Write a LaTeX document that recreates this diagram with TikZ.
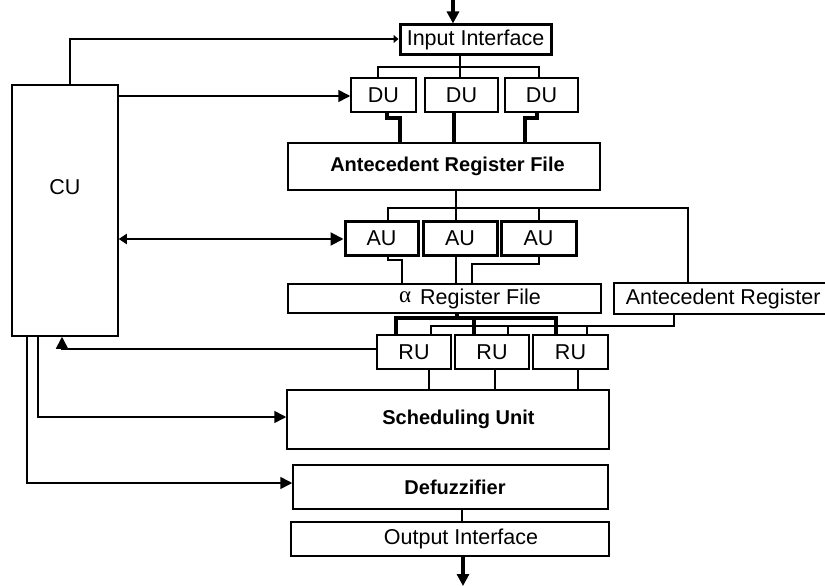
\documentclass[tikz,border=0pt]{standalone}
\usepackage{fontspec}
\setmainfont{Liberation Sans}
\newfontfamily\greekfont{Liberation Serif}
\usetikzlibrary{arrows.meta}
\begin{document}
\begin{tikzpicture}[x=1pt,y=-1pt,
  box/.style={draw, line width=1.5pt, inner sep=0pt, font=\fontsize{21.5}{24}\selectfont},
  tbox/.style={box, line width=3pt},
  bbox/.style={box, font=\fontsize{20}{24}\selectfont\bfseries},
  lbl/.style={inner sep=0pt, font=\fontsize{21.5}{24}\selectfont},
  wire/.style={line width=1.6pt},
  midwire/.style={line width=2.2pt},
  buswire/.style={line width=3.5pt},
  arr/.style={-{Triangle[length=12pt,width=12pt]}},
  sarr/.style={-{Triangle[length=5pt,width=8pt]}}
]
\useasboundingbox (0,0) rectangle (825,586);

% nodes
\node[box, minimum width=106pt, minimum height=251pt] (cu) at (65,210.5) {};
\node[lbl] (cutext) at (65,187) {CU};
\node[tbox, minimum width=151pt, minimum height=30pt] (in) at (475.5,40) {Input Interface};
\node[box, minimum width=65pt, minimum height=34pt] (du1) at (383.5,95) {DU};
\node[box, minimum width=73pt, minimum height=34pt] (du2) at (461.5,95) {DU};
\node[box, minimum width=73pt, minimum height=34pt] (du3) at (541.5,95) {DU};
\node[bbox, minimum width=312pt, minimum height=47pt] (arf) at (444,166.5) {\hspace*{7pt}Antecedent Register File};
\node[tbox, minimum width=73pt, minimum height=34pt] (au1) at (381.5,238) {AU};
\node[tbox, minimum width=74pt, minimum height=34pt] (au2) at (460,238) {AU};
\node[tbox, minimum width=75pt, minimum height=34pt] (au3) at (538.5,238) {AU};
\node[box, minimum width=313pt, minimum height=29pt] (alrf) at (444.5,298.5) {};
\node[lbl] (alrftext) at (470,298.5) {{\greekfont\fontsize{23}{24}\selectfont\raisebox{2pt}{α}}\hspace{9pt}Register File};
\node[box, anchor=west, inner xsep=12pt, minimum height=31pt] (ar) at (613,298.5) {Antecedent Register};
\node[box, minimum width=74pt, minimum height=34pt] (ru1) at (414,352) {RU};
\node[box, minimum width=74pt, minimum height=34pt] (ru2) at (492,352) {RU};
\node[box, minimum width=75pt, minimum height=34pt] (ru3) at (570.5,352) {RU};
\node[bbox, minimum width=322pt, minimum height=59pt] (su) at (448,419.5) {\hspace*{21pt}Scheduling Unit};
\node[bbox, minimum width=315pt, minimum height=44pt] (def) at (450.5,487) {\hspace*{9pt}Defuzzifier};
\node[box, minimum width=318pt, minimum height=34pt] (oi) at (450,539) {\hspace*{22pt}Output Interface};

% coordinates for free ends
\coordinate (inp) at (453,0);
\coordinate (outp) at (463,586);

% input / output
\draw[buswire, arr] (inp) -- (inp |- in.north);
\draw[buswire, arr] (oi.south -| outp) -- (outp);

% CU connections
\draw[wire, sarr] ([xshift=5pt]cu.north) |- (in.west |- 0,39);
\draw[wire, arr] (cu.east |- 0,96) -- (du1.west |- 0,96);
\draw[midwire, {Triangle[length=8pt,width=10pt]}-{Triangle[length=13pt,width=13pt]}] (cu.east |- 0,239) -- (au1.west |- 0,239);
\draw[wire, arr] (ru1.west |- 0,349) -| (cu.south -| 62,0);
\draw[wire, arr] (cu.south -| 38,0) |- (su.west |- 0,417);
\draw[wire, arr] (cu.south -| 27,0) |- (def.west |- 0,483);

% Input Interface -> DUs
\draw[midwire] (in.south -| 460,0) -- (460,67);
\draw[midwire] (du1.north -| 378,0) -- (378,67) -| (du3.north -| 539,0);
\draw[midwire] (du2.north -| 460,0) -- (460,67);

% DUs -> ARF
\draw[line width=4pt] (du1.south -| 387,0) -- (387,118) -- (400,118) -- (arf.north -| 400,0);
\draw[line width=4pt] (du2.south -| 454,0) -- (arf.north -| 454,0);
\draw[line width=4pt] (du3.south -| 537,0) -- (537,118) -- (525,118) -- (arf.north -| 525,0);

% ARF -> AUs and Antecedent Register
\draw[wire] (arf.south -| 456,0) -- (au2.north -| 456,0);
\draw[wire] (au1.north -| 388,0) -- (388,208) -| (ar.north -| 688,0);
\draw[wire] (539,208) -- (au3.north -| 539,0);

% AUs -> alpha RF
\draw[wire] (au1.south -| 388,0) -- (388,260) -- (402,260) -- (alrf.north -| 402,0);
\draw[wire] (au2.south -| 456,0) -- (alrf.north -| 456,0);
\draw[wire] (au3.south -| 539,0) -- (539,264) -- (472,264) -- (alrf.north -| 472,0);

% alpha RF -> RUs
\draw[line width=3.5pt] (alrf.south -| 457,0) -- (457,318);
\draw[line width=3.5pt] (ru1.north -| 396,0) -- (396,318) -| (ru3.north -| 556,0);
\draw[line width=3.5pt] (474,318) -- (ru2.north -| 474,0);

% Antecedent Register -> RUs
\draw[midwire] (ar.south -| 674,0) -- (674,326) -| (ru1.north -| 431,0);
\draw[midwire] (508,326) -- (ru2.north -| 508,0);
\draw[midwire] (587,326) -- (ru3.north -| 587,0);

% RUs -> SU
\draw[wire] (ru1.south -| 429,0) -- (su.north -| 429,0);
\draw[wire] (ru2.south -| 495,0) -- (su.north -| 495,0);
\draw[wire] (ru3.south -| 578,0) -- (su.north -| 578,0);

% Defuzzifier -> Output Interface
\draw[wire] (def.south -| 462,0) -- (oi.north -| 462,0);
\end{tikzpicture}
\end{document}
